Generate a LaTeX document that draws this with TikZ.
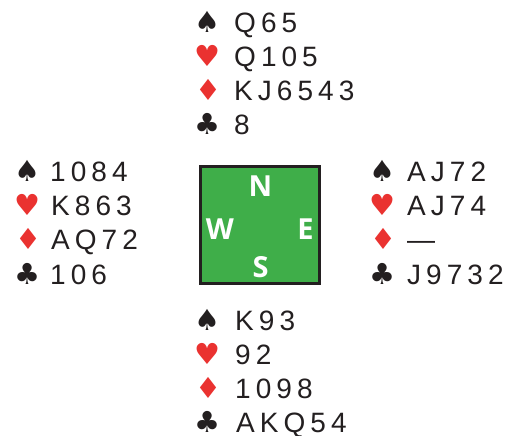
\documentclass[tikz,border=0pt]{standalone}
\usepackage{fontspec}
\setmainfont{Liberation Sans}
\newfontfamily\cardfont[LetterSpace=18]{Liberation Sans}
\newfontfamily\suitfont{DejaVu Sans}
\newfontfamily\compassfont{Open Sans}
\definecolor{suitred}{RGB}{234,50,48}
\definecolor{ink}{RGB}{35,31,32}
\definecolor{feltgreen}{RGB}{63,174,73}
\tikzset{
  suit/.style={anchor=base, inner sep=0pt, font=\suitfont\fontsize{29bp}{29bp}\selectfont},
  blacksuit/.style={suit, text=ink},
  redsuit/.style={suit, text=suitred},
  cards/.style={anchor=base west, inner sep=0pt, text=ink, font=\cardfont\fontsize{28bp}{28bp}\selectfont},
  compass/.style={anchor=base, inner sep=0pt, text=white, font=\compassfont\bfseries\fontsize{29bp}{29bp}\selectfont},
  table/.style={draw=ink, line width=2.5bp, fill=feltgreen}
}
\begin{document}
\begin{tikzpicture}[x=1bp,y=-1bp]
\useasboundingbox (0,0) rectangle (516,436);
% table
\draw[table] (200.5,166.5) rectangle (319.5,283.5);
\node[compass] (cN) at (260.5,197) {N};
\node[compass] (cW) at (220,240) {W};
\node[compass] (cE) at (305.5,240) {E};
\node[compass] (cS) at (260.5,277) {S};
% North
\node[blacksuit] (nS) at (207,33) {♠};
\node[cards] (nSc) at (234,33) {Q65};
\node[redsuit] (nH) at (207,67) {♥};
\node[cards] (nHc) at (234,67) {Q105};
\node[redsuit] (nD) at (208,101) {♦};
\node[cards] (nDc) at (234,101) {KJ6543};
\node[blacksuit] (nC) at (207,135) {♣};
\node[cards] (nCc) at (234,135) {8};
% West
\node[blacksuit] (wS) at (27,182) {♠};
\node[cards] (wSc) at (50,182) {1084};
\node[redsuit] (wH) at (27,216) {♥};
\node[cards] (wHc) at (51,216) {K863};
\node[redsuit] (wD) at (28,250) {♦};
\node[cards] (wDc) at (51,250) {AQ72};
\node[blacksuit] (wC) at (27,284) {♣};
\node[cards] (wCc) at (50,284) {106};
% East
\node[blacksuit] (eS) at (382,182) {♠};
\node[cards] (eSc) at (407,182) {AJ72};
\node[redsuit] (eH) at (382,216) {♥};
\node[cards] (eHc) at (407,216) {AJ74};
\node[redsuit] (eD) at (383,250) {♦};
\node[cards] (eDc) at (407,250) {—};
\node[blacksuit] (eC) at (382,284) {♣};
\node[cards] (eCc) at (407,284) {J9732};
% South
\node[blacksuit] (sS) at (207,330) {♠};
\node[cards] (sSc) at (235,330) {K93};
\node[redsuit] (sH) at (207,364) {♥};
\node[cards] (sHc) at (235,364) {92};
\node[redsuit] (sD) at (208,398) {♦};
\node[cards] (sDc) at (235,398) {1098};
\node[blacksuit] (sC) at (207,432) {♣};
\node[cards] (sCc) at (236,432) {AKQ54};
\end{tikzpicture}
\end{document}
